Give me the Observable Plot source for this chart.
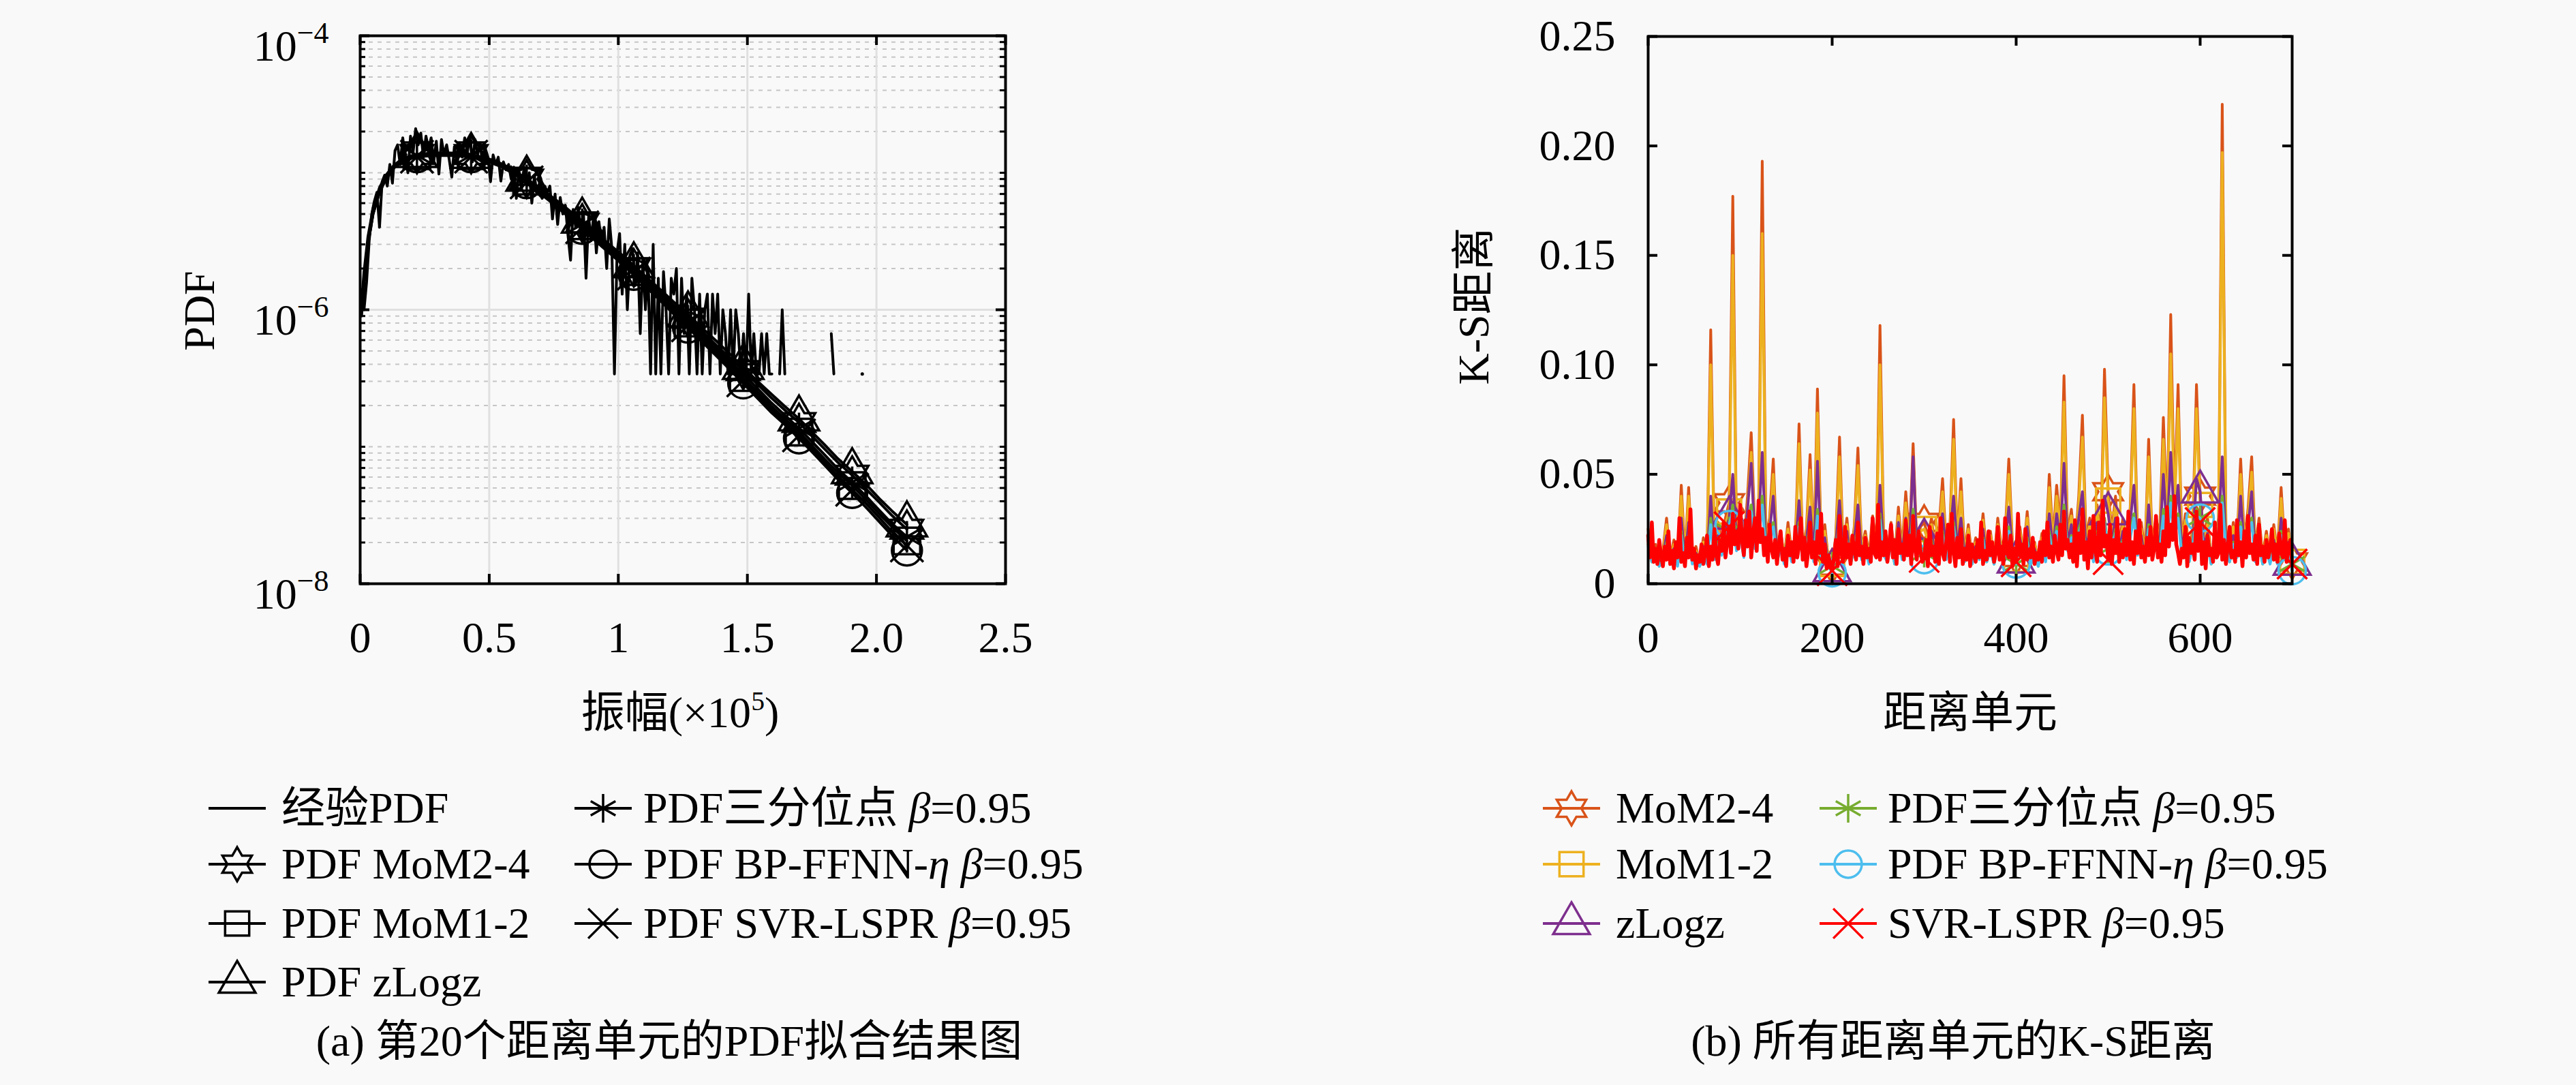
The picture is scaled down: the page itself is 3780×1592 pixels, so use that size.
<!DOCTYPE html>
<html><head><meta charset="utf-8">
<script src="https://cdn.jsdelivr.net/npm/d3@7"></script>
<script src="https://cdn.jsdelivr.net/npm/@observablehq/plot@0.6"></script>
<style>
html,body{margin:0;padding:0;background:#f9f9f9;}
#page{position:relative;width:3780px;height:1592px;overflow:hidden;background:#f9f9f9;
  font-family:"Liberation Serif","Noto Sans CJK SC",serif;color:#000;}
.abs{position:absolute;white-space:nowrap;line-height:1;}
.lg{position:absolute;white-space:nowrap;line-height:1;font-size:64px;transform:translateY(-50%);}
.ttl{position:absolute;white-space:nowrap;line-height:1;font-size:64px;transform:translate(-50%,-50%);}
.ttlr{position:absolute;white-space:nowrap;line-height:1;font-size:64px;transform:translate(-50%,-50%) rotate(-90deg);}
sup{font-size:0.62em;vertical-align:0;position:relative;top:-0.62em;}
</style></head>
<body><div id="page"></div>
<script>
// ================= (a) PDF fit of range cell 20 =================
const ampTicks = [0, 0.5, 1, 1.5, 2, 2.5];
const ampTickLabels = ["0", "0.5", "1", "1.5", "2.0", "2.5"];
const ampGrid = [0.5, 1, 1.5, 2];
const pdfLabelTicks = [1e-4, 1e-6, 1e-8];
const pdfExponents = ["−4", "−6", "−8"];
const pdfGridMajor = [1e-6];

// empirical PDF (bin width 0.01 ×10^5), null = empty bin
const empiricalPDF = [
  1.4e-6,1.0e-6,1.6e-6,3.2e-6,5.0e-6,6.2e-6,7.2e-6,4.0e-6,8.6e-6,9.6e-6,
  8.0e-6,1.15e-5,8.4e-6,1.45e-5,1.6e-5,1.15e-5,1.8e-5,1.3e-5,1.0e-5,1.85e-5,
  1.4e-5,2.1e-5,1.6e-5,1.95e-5,1.3e-5,1.85e-5,1.5e-5,1.8e-5,1.2e-5,1.7e-5,
  9.8e-6,1.75e-5,1.35e-5,1.6e-5,1.25e-5,9.3e-6,1.55e-5,1.2e-5,1.65e-5,1.3e-5,
  1.8e-5,1.4e-5,1.85e-5,1.2e-5,1.75e-5,1.35e-5,1.65e-5,1.1e-5,1.5e-5,1.3e-5,
  8.6e-6,1.35e-5,1.15e-5,1.3e-5,8.7e-6,1.2e-5,1.05e-5,1.15e-5,9.0e-6,1.1e-5,
  6.5e-6,1.05e-5,7.5e-6,1.1e-5,8.0e-6,1.0e-5,6.0e-6,9.5e-6,7.0e-6,8.5e-6,
  6.5e-6,8.0e-6,7.2e-6,8.0e-6,4.6e-6,7.0e-6,4.2e-6,6.6e-6,5.0e-6,5.8e-6,
  3.5e-6,2.3e-6,5.4e-6,4.0e-6,5.6e-6,3.4e-6,5.2e-6,1.7e-6,4.8e-6,3.2e-6,
  5.0e-6,2.6e-6,4.4e-6,3.0e-6,4.0e-6,2.0e-6,4.6e-6,2.8e-6,3.4e-7,2.6e-6,
  3.6e-6,1.3e-6,3.0e-6,1.0e-6,2.5e-6,2.8e-6,1.5e-6,2.6e-6,6.7e-7,2.3e-6,
  1.0e-6,2.0e-6,3.4e-7,3.0e-6,3.4e-7,1.7e-6,3.4e-7,1.9e-6,1.0e-6,3.4e-7,
  1.7e-6,1.3e-6,2.0e-6,3.4e-7,1.7e-6,6.7e-7,1.3e-6,3.4e-7,1.7e-6,1.0e-6,
  3.4e-7,1.3e-6,3.4e-7,1.0e-6,1.3e-6,3.4e-7,1.3e-6,6.7e-7,1.3e-6,3.4e-7,
  1.0e-6,6.7e-7,3.4e-7,1.0e-6,3.4e-7,1.0e-6,6.7e-7,3.4e-7,6.7e-7,3.4e-7,
  1.3e-6,3.4e-7,6.7e-7,3.4e-7,3.4e-7,6.7e-7,3.4e-7,6.7e-7,3.4e-7,3.4e-7,
  null,null,3.4e-7,1.0e-6,3.4e-7,null,null,null,null,null,
  null,null,null,null,null,null,null,null,null,null,
  null,null,6.7e-7,3.4e-7,null,null,null,null,null,null,
  null,null,null,null,3.4e-7,null,null,null,null,null
];

const fitAmp = [0.005,0.015,0.03,0.05,0.075,0.1,0.13,0.16,0.19,0.22,
  0.27,0.33,0.38,0.43,0.49,0.55,0.6,0.645,0.7,0.75,
  0.8,0.86,0.91,0.96,1.01,1.06,1.11,1.16,1.21,1.27,
  1.33,1.38,1.43,1.484,1.54,1.59,1.645,1.70,1.75,1.80,
  1.85,1.906,1.96,2.01,2.06,2.118];
const fitMarkerAmp = [0.22,0.43,0.645,0.86,1.06,1.27,1.484,1.70,1.906,2.118];

const pdfMoM24 = [1.0e-6,1.7e-6,3.1e-6,5.2e-6,7.5e-6,9.4e-6,1.12e-5,1.25e-5,1.32e-5,1.36e-5,
  1.39e-5,1.4e-5,1.39e-5,1.36e-5,1.28e-5,1.16e-5,1.03e-5,9.0e-6,7.6e-6,6.4e-6,
  5.4e-6,4.3e-6,3.55e-6,2.95e-6,2.45e-6,2.02e-6,1.65e-6,1.35e-6,1.1e-6,8.7e-7,
  6.8e-7,5.5e-7,4.5e-7,3.6e-7,2.85e-7,2.3e-7,1.85e-7,1.5e-7,1.2e-7,9.6e-8,
  7.7e-8,6.2e-8,4.9e-8,3.95e-8,3.15e-8,2.5e-8];
const pdfMoM12 = [9.5e-7,1.65e-6,3.05e-6,5.1e-6,7.3e-6,9.2e-6,1.1e-5,1.22e-5,1.29e-5,1.33e-5,
  1.36e-5,1.37e-5,1.36e-5,1.33e-5,1.25e-5,1.13e-5,1.0e-5,8.7e-6,7.3e-6,6.1e-6,
  5.1e-6,4.1e-6,3.35e-6,2.78e-6,2.3e-6,1.9e-6,1.55e-6,1.26e-6,1.02e-6,8.0e-7,
  6.2e-7,5.0e-7,4.05e-7,3.2e-7,2.5e-7,2.0e-7,1.6e-7,1.28e-7,1.02e-7,8.1e-8,
  6.5e-8,5.2e-8,4.1e-8,3.25e-8,2.6e-8,2.05e-8];
const pdfZLogz = [1.1e-6,1.9e-6,3.4e-6,5.5e-6,7.8e-6,9.6e-6,1.13e-5,1.25e-5,1.31e-5,1.34e-5,
  1.36e-5,1.36e-5,1.35e-5,1.32e-5,1.25e-5,1.14e-5,1.02e-5,9.0e-6,7.7e-6,6.5e-6,
  5.5e-6,4.45e-6,3.7e-6,3.05e-6,2.55e-6,2.1e-6,1.72e-6,1.42e-6,1.16e-6,9.2e-7,
  7.2e-7,5.9e-7,4.8e-7,3.8e-7,3.0e-7,2.45e-7,1.97e-7,1.6e-7,1.28e-7,1.03e-7,
  8.2e-8,6.6e-8,5.3e-8,4.2e-8,3.4e-8,2.7e-8];
const pdfTertile = [9.8e-7,1.7e-6,3.1e-6,5.15e-6,7.4e-6,9.3e-6,1.11e-5,1.23e-5,1.3e-5,1.34e-5,
  1.37e-5,1.38e-5,1.37e-5,1.34e-5,1.26e-5,1.14e-5,1.01e-5,8.8e-6,7.45e-6,6.25e-6,
  5.2e-6,4.2e-6,3.45e-6,2.85e-6,2.36e-6,1.95e-6,1.6e-6,1.3e-6,1.06e-6,8.3e-7,
  6.5e-7,5.25e-7,4.25e-7,3.4e-7,2.65e-7,2.12e-7,1.7e-7,1.36e-7,1.09e-7,8.7e-8,
  6.9e-8,5.5e-8,4.35e-8,3.45e-8,2.75e-8,2.2e-8];
const pdfBPFFNN = [9.0e-7,1.6e-6,3.0e-6,5.0e-6,7.2e-6,9.0e-6,1.08e-5,1.2e-5,1.27e-5,1.3e-5,
  1.33e-5,1.34e-5,1.33e-5,1.3e-5,1.22e-5,1.1e-5,9.7e-6,8.4e-6,7.0e-6,5.9e-6,
  4.9e-6,3.9e-6,3.2e-6,2.65e-6,2.2e-6,1.8e-6,1.45e-6,1.18e-6,9.5e-7,7.4e-7,
  5.7e-7,4.6e-7,3.7e-7,2.9e-7,2.25e-7,1.8e-7,1.45e-7,1.15e-7,9.2e-8,7.3e-8,
  5.8e-8,4.6e-8,3.6e-8,2.85e-8,2.25e-8,1.75e-8];
const pdfSVR = [9.2e-7,1.6e-6,3.0e-6,5.0e-6,7.2e-6,9.1e-6,1.09e-5,1.21e-5,1.28e-5,1.31e-5,
  1.34e-5,1.35e-5,1.34e-5,1.31e-5,1.23e-5,1.11e-5,9.8e-6,8.5e-6,7.1e-6,6.0e-6,
  5.0e-6,4.0e-6,3.28e-6,2.7e-6,2.24e-6,1.84e-6,1.5e-6,1.22e-6,9.8e-7,7.7e-7,
  5.95e-7,4.8e-7,3.85e-7,3.05e-7,2.38e-7,1.9e-7,1.52e-7,1.21e-7,9.7e-8,7.7e-8,
  6.1e-8,4.85e-8,3.85e-8,3.05e-8,2.4e-8,1.9e-8];

const legendLabelsA = ["经验PDF","PDF MoM2-4","PDF MoM1-2","PDF zLogz",
  "PDF三分位点 <i>β</i>=0.95","PDF BP-FFNN-<i>η</i> <i>β</i>=0.95","PDF SVR-LSPR <i>β</i>=0.95"];

// ================= (b) K-S distance of all range cells =================
const cellTicks = [0, 200, 400, 600];
const ksTicks = [0, 0.05, 0.1, 0.15, 0.2, 0.25];
const ksTickLabels = ["0", "0.05", "0.10", "0.15", "0.20", "0.25"];
const ksMarkerCells = [88, 200, 300, 400, 500, 600, 700];

// cells 0,4,...,700
const ksMoM24 = [
  0.025,0.012,0.018,0.010,0.015,0.030,0.012,0.020,0.011,0.045,
  0.013,0.044,0.012,0.017,0.009,0.021,0.012,0.116,0.015,0.028,
  0.018,0.030,0.037,0.177,0.022,0.035,0.018,0.040,0.069,0.025,
  0.032,0.193,0.021,0.030,0.057,0.015,0.024,0.012,0.028,0.014,
  0.020,0.073,0.016,0.025,0.059,0.014,0.089,0.018,0.027,0.010,
  0.008,0.022,0.067,0.015,0.030,0.012,0.026,0.062,0.016,0.024,
  0.013,0.031,0.017,0.118,0.020,0.014,0.028,0.012,0.035,0.016,
  0.042,0.020,0.064,0.018,0.026,0.028,0.022,0.030,0.015,0.025,
  0.048,0.017,0.026,0.075,0.019,0.048,0.014,0.027,0.012,0.021,
  0.015,0.032,0.013,0.024,0.011,0.030,0.016,0.022,0.057,0.018,
  0.012,0.026,0.014,0.033,0.012,0.019,0.010,0.023,0.015,0.050,
  0.020,0.045,0.025,0.095,0.022,0.034,0.016,0.040,0.077,0.021,
  0.030,0.015,0.036,0.022,0.098,0.042,0.024,0.040,0.018,0.030,
  0.016,0.035,0.091,0.020,0.028,0.014,0.066,0.018,0.030,0.022,
  0.076,0.028,0.123,0.035,0.091,0.020,0.032,0.014,0.026,0.091,
  0.040,0.022,0.030,0.012,0.019,0.030,0.219,0.025,0.014,0.028,
  0.018,0.057,0.020,0.034,0.058,0.016,0.030,0.013,0.024,0.011,
  0.027,0.014,0.044,0.016,0.025,0.010];
const ksMoM12 = [
  0.022,0.013,0.016,0.011,0.014,0.027,0.011,0.018,0.012,0.040,
  0.012,0.040,0.013,0.015,0.010,0.019,0.013,0.100,0.014,0.025,
  0.017,0.027,0.033,0.150,0.020,0.032,0.017,0.036,0.060,0.023,
  0.029,0.160,0.019,0.027,0.050,0.014,0.022,0.013,0.025,0.013,
  0.018,0.064,0.015,0.023,0.052,0.013,0.078,0.017,0.024,0.011,
  0.009,0.020,0.058,0.014,0.027,0.011,0.024,0.054,0.015,0.022,
  0.012,0.028,0.016,0.100,0.018,0.013,0.025,0.011,0.031,0.015,
  0.037,0.018,0.056,0.017,0.024,0.025,0.020,0.027,0.014,0.023,
  0.042,0.016,0.024,0.066,0.018,0.042,0.013,0.025,0.011,0.019,
  0.014,0.029,0.012,0.022,0.012,0.027,0.015,0.020,0.050,0.017,
  0.011,0.024,0.013,0.030,0.011,0.018,0.011,0.021,0.014,0.044,
  0.018,0.040,0.023,0.083,0.020,0.031,0.015,0.036,0.067,0.019,
  0.027,0.014,0.033,0.020,0.085,0.038,0.022,0.036,0.017,0.027,
  0.015,0.032,0.080,0.019,0.025,0.013,0.058,0.017,0.027,0.020,
  0.066,0.026,0.105,0.032,0.080,0.019,0.029,0.013,0.024,0.080,
  0.036,0.020,0.027,0.011,0.018,0.027,0.197,0.023,0.013,0.026,
  0.017,0.050,0.019,0.031,0.051,0.015,0.027,0.012,0.022,0.012,
  0.025,0.013,0.039,0.015,0.023,0.010];
const ksZLogz = [
  0.020,0.012,0.015,0.009,0.013,0.022,0.010,0.016,0.010,0.030,
  0.011,0.028,0.011,0.014,0.009,0.017,0.011,0.040,0.013,0.022,
  0.016,0.024,0.030,0.050,0.019,0.028,0.015,0.034,0.055,0.020,
  0.026,0.060,0.017,0.024,0.040,0.013,0.020,0.011,0.022,0.012,
  0.016,0.038,0.013,0.020,0.035,0.012,0.056,0.015,0.021,0.009,
  0.006,0.018,0.038,0.012,0.024,0.010,0.020,0.036,0.013,0.019,
  0.011,0.024,0.014,0.045,0.016,0.012,0.022,0.010,0.028,0.013,
  0.030,0.016,0.058,0.015,0.021,0.020,0.018,0.024,0.012,0.020,
  0.032,0.014,0.021,0.040,0.016,0.030,0.012,0.022,0.010,0.017,
  0.013,0.025,0.011,0.019,0.010,0.024,0.013,0.018,0.035,0.015,
  0.010,0.021,0.012,0.026,0.010,0.016,0.009,0.019,0.012,0.032,
  0.016,0.032,0.020,0.055,0.018,0.027,0.013,0.030,0.042,0.016,
  0.024,0.012,0.028,0.018,0.040,0.032,0.019,0.030,0.015,0.024,
  0.013,0.028,0.045,0.016,0.022,0.011,0.036,0.014,0.024,0.017,
  0.050,0.022,0.060,0.027,0.045,0.016,0.025,0.011,0.020,0.048,
  0.042,0.017,0.023,0.010,0.015,0.024,0.058,0.019,0.011,0.022,
  0.014,0.040,0.016,0.026,0.042,0.012,0.022,0.010,0.018,0.010,
  0.020,0.011,0.030,0.013,0.019,0.009];
const ksTertile = [
  0.018,0.010,0.014,0.008,0.012,0.019,0.009,0.014,0.009,0.024,
  0.010,0.022,0.010,0.012,0.008,0.015,0.010,0.030,0.012,0.019,
  0.014,0.020,0.024,0.036,0.016,0.024,0.013,0.028,0.036,0.017,
  0.022,0.040,0.015,0.020,0.028,0.011,0.017,0.010,0.019,0.011,
  0.014,0.028,0.012,0.018,0.026,0.011,0.034,0.013,0.018,0.008,
  0.008,0.016,0.028,0.011,0.020,0.009,0.017,0.026,0.012,0.017,
  0.010,0.020,0.013,0.032,0.014,0.011,0.019,0.009,0.023,0.012,
  0.024,0.014,0.034,0.013,0.018,0.014,0.016,0.020,0.011,0.017,
  0.024,0.012,0.018,0.028,0.014,0.024,0.011,0.019,0.009,0.015,
  0.012,0.021,0.010,0.016,0.009,0.020,0.012,0.016,0.026,0.013,
  0.009,0.018,0.011,0.021,0.009,0.014,0.008,0.017,0.011,0.024,
  0.014,0.026,0.017,0.036,0.016,0.022,0.012,0.025,0.030,0.014,
  0.020,0.011,0.024,0.016,0.030,0.016,0.017,0.025,0.013,0.020,
  0.012,0.023,0.032,0.014,0.019,0.010,0.027,0.013,0.020,0.015,
  0.034,0.019,0.040,0.022,0.032,0.014,0.021,0.010,0.018,0.034,
  0.030,0.015,0.020,0.009,0.014,0.020,0.040,0.017,0.010,0.019,
  0.013,0.028,0.014,0.022,0.030,0.011,0.019,0.009,0.016,0.010,
  0.017,0.010,0.024,0.012,0.016,0.009];
const ksBPFFNN = [
  0.017,0.010,0.013,0.008,0.011,0.018,0.009,0.013,0.008,0.022,
  0.009,0.020,0.009,0.011,0.008,0.014,0.009,0.027,0.011,0.018,
  0.013,0.019,0.027,0.033,0.015,0.022,0.012,0.026,0.033,0.016,
  0.020,0.036,0.014,0.019,0.026,0.010,0.016,0.009,0.018,0.010,
  0.013,0.026,0.011,0.017,0.024,0.010,0.031,0.012,0.017,0.008,
  0.005,0.015,0.026,0.010,0.019,0.009,0.016,0.024,0.011,0.016,
  0.009,0.019,0.012,0.029,0.013,0.010,0.018,0.009,0.021,0.011,
  0.022,0.013,0.031,0.012,0.017,0.011,0.015,0.018,0.010,0.016,
  0.022,0.011,0.017,0.026,0.013,0.022,0.010,0.018,0.009,0.014,
  0.011,0.020,0.010,0.015,0.009,0.019,0.011,0.015,0.024,0.012,
  0.009,0.017,0.010,0.019,0.009,0.013,0.008,0.016,0.010,0.022,
  0.013,0.024,0.016,0.033,0.015,0.021,0.011,0.023,0.028,0.013,
  0.019,0.010,0.022,0.015,0.028,0.015,0.016,0.023,0.012,0.019,
  0.011,0.021,0.030,0.013,0.018,0.010,0.025,0.012,0.019,0.014,
  0.031,0.018,0.037,0.020,0.030,0.013,0.020,0.010,0.017,0.031,
  0.030,0.014,0.019,0.009,0.013,0.019,0.037,0.016,0.010,0.018,
  0.012,0.026,0.013,0.020,0.028,0.010,0.018,0.009,0.015,0.009,
  0.016,0.009,0.022,0.011,0.015,0.006];
// cells 0,2,...,700
const ksSVR = [
  0.022,0.012,0.028,0.010,0.016,0.009,0.020,0.013,0.008,0.017,
  0.011,0.024,0.009,0.015,0.007,0.019,0.012,0.030,0.010,0.014,
  0.008,0.021,0.012,0.034,0.011,0.016,0.007,0.013,0.010,0.018,
  0.009,0.014,0.022,0.008,0.017,0.011,0.025,0.013,0.009,0.020,
  0.015,0.028,0.012,0.019,0.026,0.014,0.032,0.018,0.024,0.016,
  0.036,0.020,0.013,0.029,0.017,0.033,0.012,0.022,0.030,0.015,
  0.038,0.019,0.025,0.013,0.021,0.010,0.027,0.016,0.012,0.020,
  0.009,0.018,0.024,0.011,0.016,0.008,0.022,0.013,0.019,0.010,
  0.026,0.012,0.017,0.030,0.011,0.021,0.008,0.015,0.028,0.012,
  0.019,0.009,0.024,0.014,0.032,0.010,0.018,0.007,0.013,0.009,
  0.006,0.012,0.020,0.008,0.031,0.014,0.010,0.026,0.012,0.018,
  0.009,0.022,0.015,0.011,0.028,0.013,0.017,0.009,0.021,0.012,
  0.016,0.010,0.030,0.014,0.012,0.036,0.011,0.019,0.013,0.024,
  0.010,0.017,0.027,0.012,0.020,0.009,0.025,0.014,0.018,0.011,
  0.029,0.013,0.022,0.009,0.031,0.016,0.011,0.024,0.015,0.010,
  0.012,0.020,0.008,0.026,0.013,0.017,0.010,0.023,0.009,0.030,
  0.014,0.011,0.019,0.027,0.010,0.032,0.015,0.008,0.021,0.012,
  0.025,0.009,0.016,0.011,0.022,0.008,0.018,0.013,0.010,0.020,
  0.012,0.028,0.009,0.015,0.011,0.024,0.013,0.019,0.010,0.014,
  0.026,0.011,0.017,0.009,0.030,0.014,0.012,0.022,0.008,0.016,
  0.010,0.032,0.013,0.018,0.009,0.025,0.011,0.015,0.012,0.021,
  0.009,0.014,0.011,0.019,0.010,0.024,0.013,0.028,0.012,0.017,
  0.010,0.022,0.015,0.011,0.027,0.013,0.033,0.016,0.020,0.012,
  0.018,0.010,0.029,0.008,0.023,0.014,0.034,0.011,0.019,0.007,
  0.024,0.012,0.031,0.015,0.010,0.028,0.013,0.038,0.017,0.022,
  0.011,0.027,0.009,0.020,0.014,0.030,0.010,0.018,0.012,0.025,
  0.013,0.033,0.011,0.019,0.009,0.024,0.014,0.029,0.012,0.017,
  0.010,0.021,0.013,0.026,0.011,0.016,0.031,0.012,0.018,0.010,
  0.024,0.013,0.035,0.017,0.027,0.020,0.040,0.018,0.014,0.009,
  0.016,0.012,0.026,0.008,0.021,0.014,0.018,0.011,0.033,0.015,
  0.028,0.009,0.019,0.007,0.022,0.013,0.016,0.010,0.028,0.012,
  0.014,0.036,0.011,0.020,0.009,0.017,0.026,0.012,0.015,0.010,
  0.029,0.013,0.019,0.008,0.024,0.012,0.031,0.014,0.018,0.011,
  0.022,0.009,0.027,0.013,0.017,0.010,0.020,0.012,0.016,0.025,
  0.011,0.018,0.010,0.023,0.014,0.012,0.029,0.010,0.016,0.020,
  0.009];

const legendLabelsB = ["MoM2-4","MoM1-2","zLogz",
  "PDF三分位点 <i>β</i>=0.95","PDF BP-FFNN-<i>η</i> <i>β</i>=0.95","SVR-LSPR <i>β</i>=0.95"];
const captionA = "(a) 第20个距离单元的PDF拟合结果图";
const captionB = "(b) 所有距离单元的K-S距离";

// ================= rendering =================
const page = document.getElementById("page");
const FONT = '"Liberation Serif","Noto Sans CJK SC",serif';

const hexagram = {
  draw(ctx, size) {
    const R = Math.sqrt(size / Math.PI) * 1.25, r = R / Math.sqrt(3);
    for (let k = 0; k < 12; k++) {
      const a = -Math.PI / 2 + k * Math.PI / 6, rr = k % 2 ? r : R;
      const px = rr * Math.cos(a), py = rr * Math.sin(a);
      k ? ctx.lineTo(px, py) : ctx.moveTo(px, py);
    }
    ctx.closePath();
  }
};
const SYM = {hexagram, square: d3.symbolSquare, triangle: d3.symbolTriangle,
  asterisk: d3.symbolAsterisk, circle: d3.symbolCircle, times: d3.symbolTimes};
const lab = (ticks, labels) => { const m = new Map(ticks.map((t, i) => [t, labels[i]])); return d => m.get(d); };

// ---------- chart (a) ----------
const WA = 1700, HA = 1000, mLA = 528, mRA = 225, mTA = 52, mBA = 144;
const iWA = WA - mLA - mRA, iHA = HA - mTA - mBA;
const empRows = empiricalPDF.map((v, i) => ({amp: 0.005 + i * 0.01, pdf: v}));
const isolated = empRows.filter((d, i) => d.pdf != null &&
  (i === 0 || empRows[i - 1].pdf == null) && (i === empRows.length - 1 || empRows[i + 1].pdf == null));
const pdfMinor = d3.range(-8, -4).flatMap(k => d3.range(1, 10).map(m => m * Math.pow(10, k)))
  .filter(v => !pdfLabelTicks.some(t => Math.abs(t - v) / t < 1e-6));
const markerSetA = new Set(fitMarkerAmp);
const fitsA = [
  {vals: pdfMoM24, sym: "hexagram"}, {vals: pdfMoM12, sym: "square"}, {vals: pdfZLogz, sym: "triangle"},
  {vals: pdfTertile, sym: "asterisk"}, {vals: pdfBPFFNN, sym: "circle"}, {vals: pdfSVR, sym: "times"}
];
const tickStyle = {stroke: "black", strokeWidth: 4};
const chartA = Plot.plot({
  width: WA, height: HA, marginLeft: mLA, marginRight: mRA, marginTop: mTA, marginBottom: mBA,
  style: {background: "transparent", fontFamily: FONT, fontSize: "64px", overflow: "visible", color: "black"},
  x: {domain: [0, 2.5]},
  y: {type: "log", domain: [1e-8, 1e-4]},
  marks: [
    Plot.ruleY(pdfMinor, {y: d => d, stroke: "#c6c6c6", strokeWidth: 2, strokeDasharray: "6,7"}),
    Plot.ruleX(ampGrid, {x: d => d, stroke: "#e0e0e0", strokeWidth: 3}),
    Plot.ruleY(pdfGridMajor, {y: d => d, stroke: "#e0e0e0", strokeWidth: 3}),
    Plot.line(empRows, {x: "amp", y: "pdf", stroke: "black", strokeWidth: 4, strokeLinejoin: "round"}),
    Plot.dot(isolated, {x: "amp", y: "pdf", r: 2.5, fill: "black"}),
    ...fitsA.flatMap(s => {
      const rows = fitAmp.map((a, i) => ({amp: a, pdf: s.vals[i]}));
      return [
        Plot.line(rows, {x: "amp", y: "pdf", stroke: "black", strokeWidth: 4}),
        Plot.dot(rows.filter(d => markerSetA.has(d.amp)), {x: "amp", y: "pdf", symbol: SYM[s.sym], r: 22,
          stroke: "black", strokeWidth: 3.5, fill: "none"})
      ];
    }),
    Plot.tickX(ampTicks, {x: d => d, insetTop: iHA - 14, ...tickStyle}),
    Plot.tickX(ampTicks, {x: d => d, insetBottom: iHA - 14, ...tickStyle}),
    Plot.tickY(pdfLabelTicks, {y: d => d, insetRight: iWA - 14, ...tickStyle}),
    Plot.tickY(pdfLabelTicks, {y: d => d, insetLeft: iWA - 14, ...tickStyle}),
    Plot.tickY(pdfMinor, {y: d => d, insetRight: iWA - 8, stroke: "black", strokeWidth: 3}),
    Plot.tickY(pdfMinor, {y: d => d, insetLeft: iWA - 8, stroke: "black", strokeWidth: 3}),
    Plot.axisX(ampTicks, {tickSize: 0, tickPadding: 55, tickFormat: lab(ampTicks, ampTickLabels), label: null, fontSize: 64}),
    Plot.axisY(pdfLabelTicks, {tickSize: 0, tickPadding: 46, tickFormat: lab(pdfLabelTicks, pdfExponents), label: null, fontSize: 64, dy: 16}),
    Plot.frame({stroke: "black", strokeWidth: 4})
  ]
});
// superscript powers of ten on the log axis
const NS = "http://www.w3.org/2000/svg";
chartA.querySelectorAll('g[aria-label="y-axis tick label"] text').forEach(t => {
  const e = t.textContent; t.textContent = "";
  const a = document.createElementNS(NS, "tspan"); a.textContent = "10";
  const b = document.createElementNS(NS, "tspan"); b.textContent = e;
  b.setAttribute("font-size", "44"); b.setAttribute("dy", "-26");
  t.append(a, b);
});
const wrapA = document.createElement("div");
wrapA.style.cssText = `position:absolute;left:0;top:0;width:${WA}px;height:${HA}px;`;
wrapA.append(chartA); page.append(wrapA);

// ---------- chart (b) ----------
const WB = 1500, HB = 1000, offB = 2000, mLB = 418, mRB = 137, mTB = 53, mBB = 144;
const iWB = WB - mLB - mRB, iHB = HB - mTB - mBB;
const cells4 = d3.range(0, 701, 4), cells2 = d3.range(0, 701, 2);
const seriesB = [
  {vals: ksMoM24, cells: cells4, color: "#D95319", sym: "hexagram", w: 4},
  {vals: ksMoM12, cells: cells4, color: "#EDB120", sym: "square", w: 4},
  {vals: ksZLogz, cells: cells4, color: "#7E2F8E", sym: "triangle", w: 4},
  {vals: ksTertile, cells: cells4, color: "#77AC30", sym: "asterisk", w: 4},
  {vals: ksBPFFNN, cells: cells4, color: "#4DBEEE", sym: "circle", w: 4},
  {vals: ksSVR, cells: cells2, color: "#FF0000", sym: "times", w: 5.5}
];
const markerSetB = new Set(ksMarkerCells);
const chartB = Plot.plot({
  width: WB, height: HB, marginLeft: mLB, marginRight: mRB, marginTop: mTB, marginBottom: mBB,
  style: {background: "transparent", fontFamily: FONT, fontSize: "64px", overflow: "visible", color: "black"},
  x: {domain: [0, 700]},
  y: {domain: [0, 0.25]},
  marks: [
    ...seriesB.flatMap(s => {
      const rows = s.cells.map((c, i) => ({cell: c, ks: s.vals[i]})).filter(d => d.ks != null);
      return [
        Plot.line(rows, {x: "cell", y: "ks", stroke: s.color, strokeWidth: s.w, strokeLinejoin: "round"}),
        Plot.dot(rows.filter(d => markerSetB.has(d.cell)), {x: "cell", y: "ks", symbol: SYM[s.sym], r: 20,
          stroke: s.color, strokeWidth: 3.5, fill: "none"})
      ];
    }),
    Plot.tickX(cellTicks, {x: d => d, insetTop: iHB - 14, ...tickStyle}),
    Plot.tickX(cellTicks, {x: d => d, insetBottom: iHB - 14, ...tickStyle}),
    Plot.tickY(ksTicks, {y: d => d, insetRight: iWB - 14, ...tickStyle}),
    Plot.tickY(ksTicks, {y: d => d, insetLeft: iWB - 14, ...tickStyle}),
    Plot.axisX(cellTicks, {tickSize: 0, tickPadding: 55, tickFormat: d => String(d), label: null, fontSize: 64}),
    Plot.axisY(ksTicks, {tickSize: 0, tickPadding: 48, tickFormat: lab(ksTicks, ksTickLabels), label: null, fontSize: 64}),
    Plot.frame({stroke: "black", strokeWidth: 4})
  ]
});
const wrapB = document.createElement("div");
wrapB.style.cssText = `position:absolute;left:${offB}px;top:0;width:${WB}px;height:${HB}px;`;
wrapB.append(chartB); page.append(wrapB);

// ---------- axis titles ----------
function addText(cls, x, y, html) {
  const d = document.createElement("div"); d.className = cls;
  d.style.left = x + "px"; d.style.top = y + "px"; d.innerHTML = html; page.append(d);
}
addText("ttlr", 293, 456, "PDF");
addText("ttl", 998, 1046, "振幅(×10<sup>5</sup>)");
addText("ttlr", 2163, 449, "K-S距离");
addText("ttl", 2891, 1046, "距离单元");

// ---------- legends ----------
function legendEntry(cx, cy, tx, sym, color, html) {
  const svg = d3.create("svg").attr("width", 100).attr("height", 80)
    .style("position", "absolute").style("left", (cx - 50) + "px").style("top", (cy - 40) + "px")
    .style("overflow", "visible");
  svg.append("line").attr("x1", 8).attr("x2", 92).attr("y1", 40).attr("y2", 40)
    .attr("stroke", color).attr("stroke-width", 4);
  if (sym) svg.append("path").attr("d", d3.symbol(SYM[sym], 1250)()).attr("transform", "translate(50,40)")
    .attr("fill", "none").attr("stroke", color).attr("stroke-width", 3.5);
  page.append(svg.node());
  addText("lg", tx, cy, html);
}
const rowsY = [1186, 1268, 1355, 1441];
const symsA = [null, "hexagram", "square", "triangle", "asterisk", "circle", "times"];
legendLabelsA.forEach((l, i) => {
  const col = i < 4 ? 0 : 1, row = i < 4 ? i : i - 4;
  legendEntry(col ? 885 : 348, rowsY[row], col ? 944 : 413, symsA[i], "black", l);
});
legendLabelsB.forEach((l, i) => {
  const col = i < 3 ? 0 : 1, row = i < 3 ? i : i - 3;
  const s = seriesB[i];
  legendEntry(col ? 2712 : 2306, rowsY[row], col ? 2770 : 2371, s.sym, s.color, l);
});

// ---------- captions ----------
addText("ttl", 982, 1528, captionA);
addText("ttl", 2866, 1528, captionB);
</script>
</body></html>
